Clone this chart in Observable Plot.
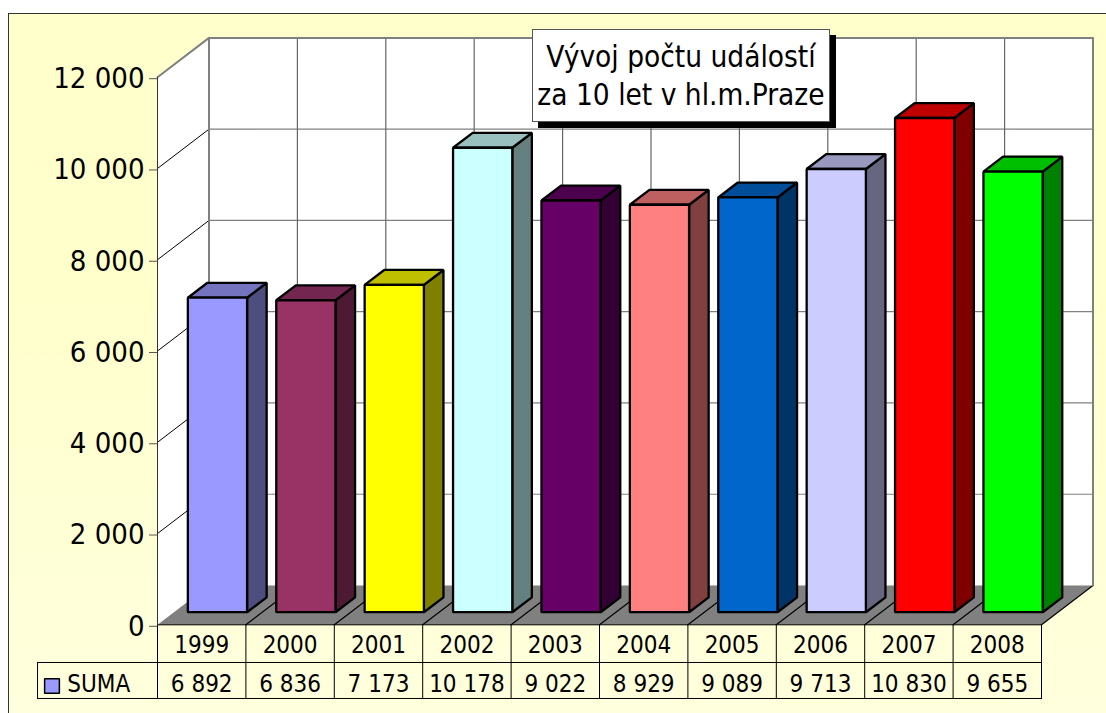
<!DOCTYPE html>
<html><head><meta charset="utf-8">
<script src="https://cdn.jsdelivr.net/npm/d3@7"></script>
<script src="https://cdn.jsdelivr.net/npm/@observablehq/plot@0.6"></script>
<style>
html,body{margin:0;padding:0;background:#fff;width:1106px;height:713px;overflow:hidden}
#bg{position:absolute;left:8px;top:13px;right:0;bottom:0;border-left:1.5px solid #333;border-top:1.5px solid #333;background:linear-gradient(#ffffcc,#ffffcc 40%,#ffffdd 100%)}
#plot{position:absolute;left:0;top:0}
#title{position:absolute;left:532px;top:29px;width:296px;height:91px;box-sizing:content-box;background:#fff;border:1px solid #555;box-shadow:6px 6px 0 #000;
font:29.5px "DejaVu Sans Condensed","DejaVu Sans";font-stretch:condensed;text-align:center;line-height:38px;color:#000;display:flex;flex-direction:column;justify-content:center;white-space:nowrap}
</style></head><body>
<div id="bg"></div><div id="plot"></div>
<div id="title"><div>Vývoj počtu událostí</div><div>za 10 let v hl.m.Praze</div></div>
<script>
const years = [1999,2000,2001,2002,2003,2004,2005,2006,2007,2008];
const suma = [6892,6836,7173,10178,9022,8929,9089,9713,10830,9655];
const frontColors = ["#9999ff","#993366","#ffff00","#ccffff","#660066","#ff8080","#0066cc","#ccccff","#ff0000","#00ff00"];
const topColors   = ["#7373bf","#732650","#bfbf00","#99bfbf","#4d004d","#bf6060","#004d99","#9999bf","#bf0000","#00bf00"];
const sideColors  = ["#4d4d80","#4d1a33","#808000","#668080","#330033","#804040","#003366","#666680","#800000","#008000"];
const yTicks = [0,2000,4000,6000,8000,10000,12000];
const fmt = v => d3.format(",")(v).replace(/,/g," ");
const font = '"DejaVu Sans Condensed","DejaVu Sans"';

// 3-D projection expressed in data units: depth 1 = full floor depth
const depthX = 51.5/88.4, depthY = 39.3*12000/547.6;
const P = (c,v,d=0)=>({c:c+d*depthX, v:v+d*depthY});
const poly = (pts,fill,stroke,sw)=>Plot.line(pts,{x:"c",y:"v",curve:"linear-closed",fill,stroke,strokeWidth:sw,strokeLinejoin:"miter"});
const seg = (pts,stroke,sw)=>Plot.line(pts,{x:"c",y:"v",stroke,strokeWidth:sw});

const nCat = years.length, maxV = 12000;
const d0=0.32, d1=0.70, half=0.335;

// table rows in value units below the axis
const row1 = -826, row2 = -1615, legendLeft = -1.357;

const marks = [];
// walls
marks.push(poly([P(0,0),P(0,maxV),P(0,maxV,1),P(0,0,1)],"#fff","none",0));
marks.push(poly([P(0,0,1),P(0,maxV,1),P(nCat,maxV,1),P(nCat,0,1)],"#fff","none",0));
// gridlines
for(const t of yTicks.slice(1,-1)){
  marks.push(seg([P(0,t),P(0,t,1)],"#000",1));
  marks.push(seg([P(0,t,1),P(nCat,t,1)],"#808080",1.2));
}
for(let i=1;i<nCat;i++) marks.push(seg([P(i,0,1),P(i,maxV,1)],"#666",1.2));
// floor
marks.push(poly([P(0,0),P(0,0,1),P(nCat,0,1),P(nCat,0)],"#808080","none",0));
for(let i=1;i<=nCat;i++) marks.push(seg([P(i,0),P(i,0,1)],"#000",1.2));
// wall outline
marks.push(seg([P(0,0,1),P(0,maxV,1),P(nCat,maxV,1),P(nCat,0,1)],"#808080",2));
marks.push(seg([P(0,maxV),P(0,maxV,1)],"#808080",2));
// bars
suma.forEach((v,i)=>{
  const a=i+0.5-half-0.008, b=i+0.5+half-0.008;
  marks.push(poly([P(b,0,d0),P(b,0,d1),P(b,v,d1),P(b,v,d0)],sideColors[i],"#000",2.3));
  marks.push(poly([P(a,v,d0),P(a,v,d1),P(b,v,d1),P(b,v,d0)],topColors[i],"#000",2.3));
  marks.push(poly([P(a,0,d0),P(a,v,d0),P(b,v,d0),P(b,0,d0)],frontColors[i],"#000",2.3));
});
// table lines
marks.push(seg([P(0,0),P(0,row2)],"#000",1));
for(let i=1;i<=nCat;i++) marks.push(seg([P(i,0),P(i,row2)],"#000",1));
marks.push(seg([P(0,0),P(nCat,0)],"#000",1));
marks.push(seg([P(0,maxV),P(0,0)],"#333",1));
marks.push(seg([P(legendLeft,row1),P(nCat,row1)],"#000",1));
marks.push(seg([P(legendLeft,row2),P(nCat,row2)],"#000",1));
marks.push(seg([P(legendLeft,row1),P(legendLeft,row2)],"#000",1));
// table text
const cats = years.map((y,i)=>({c:i+0.5,y,s:fmt(suma[i])}));
marks.push(Plot.text(cats,{x:"c",y:row1/2,text:d=>String(d.y),fontSize:24,fontFamily:font,fill:"#000",dy:2}));
marks.push(Plot.text(cats,{x:"c",y:(row1+row2)/2,text:"s",fontSize:24,fontFamily:font,fill:"#000",dy:4}));
// legend
marks.push(poly([{c:-1.277,v:-1180},{c:-1.277,v:-1500},{c:-1.11,v:-1500},{c:-1.11,v:-1180}],frontColors[0],"#000",1.5));
marks.push(Plot.text(["SUMA"],{x:-1.02,y:(row1+row2)/2,text:d=>d,textAnchor:"start",fontSize:24,fontFamily:font,fill:"#000",dy:4}));
// y axis
marks.push(Plot.axisY(yTicks,{tickFormat:fmt,tickSize:8,tickPadding:5,label:null,fontSize:29,fontFamily:font,stroke:"#555",color:"#000",textStroke:"none",anchor:"left",dy:1.5}));

const chart = Plot.plot({
  width:1106,height:713,
  marginLeft:157,marginRight:65,marginTop:77,marginBottom:89,
  style:{background:"transparent",overflow:"visible"},
  x:{domain:[0,nCat],range:[157,1041],axis:null},
  y:{domain:[0,maxV],range:[624.3,76.7]},
  marks
});
document.getElementById("plot").append(chart);
</script></body></html>
